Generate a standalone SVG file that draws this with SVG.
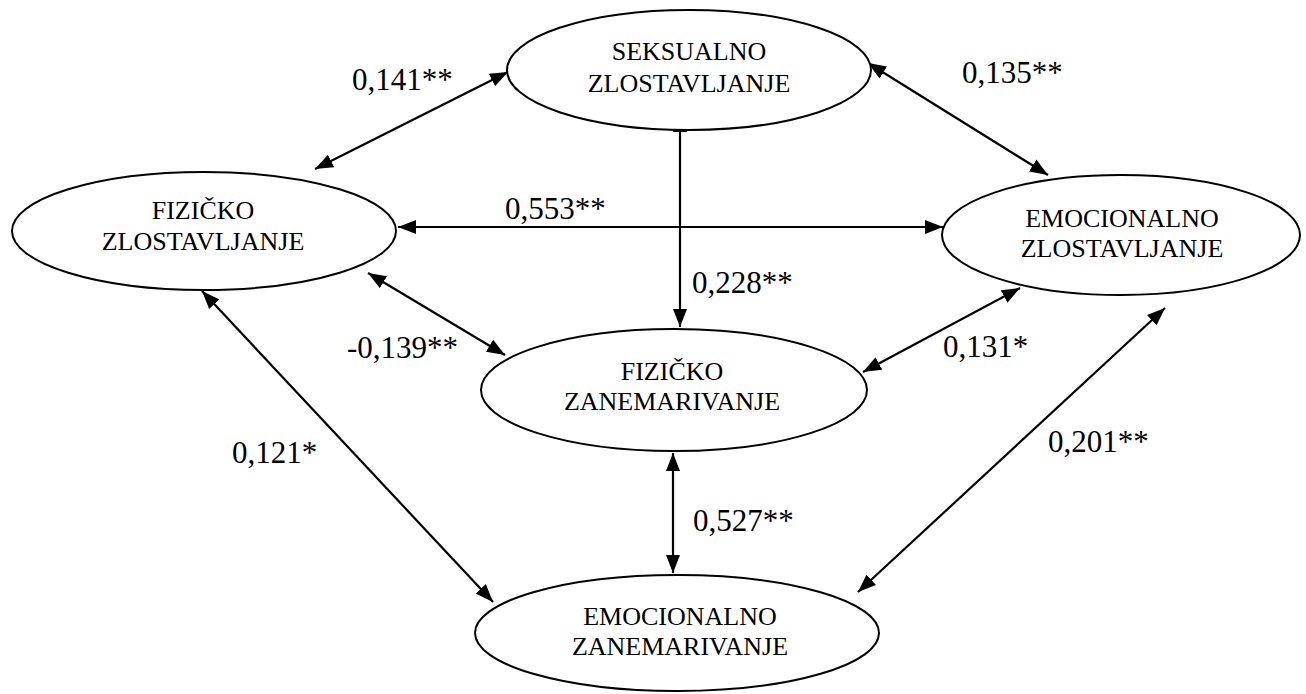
<svg xmlns="http://www.w3.org/2000/svg" width="1306" height="694" viewBox="0 0 1306 694">
<style>
.node ellipse{fill:#fff;stroke:#000;stroke-width:2}
.node text{font-family:"Liberation Serif","Times New Roman",serif;font-size:26px;fill:#000;text-anchor:middle}
.conn line{stroke:#000;stroke-width:2.2;marker-start:url(#ah);marker-end:url(#ah)}
.lbl{font-family:"Liberation Serif","Times New Roman",serif;font-size:31px;fill:#000}
</style>
<defs>
<marker id="ah" markerUnits="userSpaceOnUse" markerWidth="19" markerHeight="15" refX="18" refY="7" orient="auto-start-reverse" viewBox="0 0 19 14">
<path d="M0,0 L18,7 L0,14 z" fill="#000"/>
</marker>
</defs>
<rect width="1306" height="694" fill="#fff"/>
<g id="connectors" class="conn">
<line x1="315" y1="169" x2="508" y2="72"/>
<line x1="868" y1="63" x2="1048" y2="175"/>
<line x1="398" y1="227" x2="943" y2="227"/>
<line x1="680" y1="114" x2="680" y2="327"/>
<line x1="368" y1="273" x2="505" y2="355"/>
<line x1="863" y1="372" x2="1020" y2="288"/>
<line x1="202" y1="291" x2="493" y2="602"/>
<line x1="673" y1="453" x2="673" y2="573"/>
<line x1="858" y1="592" x2="1165" y2="308"/>
</g>
<g id="labels">
<text class="lbl" x="352" y="90">0,141**</text>
<text class="lbl" x="962" y="83">0,135**</text>
<text class="lbl" x="505" y="219">0,553**</text>
<text class="lbl" x="692" y="293">0,228**</text>
<text class="lbl" x="347" y="358">-0,139**</text>
<text class="lbl" x="943" y="357">0,131*</text>
<text class="lbl" x="232" y="463">0,121*</text>
<text class="lbl" x="1048" y="452">0,201**</text>
<text class="lbl" x="693" y="531">0,527**</text>
</g>
<g id="seksualno-zlostavljanje" class="node">
<ellipse cx="689" cy="70" rx="182" ry="60"/>
<text x="689" y="60">SEKSUALNO</text>
<text x="689" y="92">ZLOSTAVLJANJE</text>
</g>
<g id="fizicko-zlostavljanje" class="node">
<ellipse cx="204" cy="231" rx="192" ry="59"/>
<text x="203" y="219">FIZIČKO</text>
<text x="203" y="250">ZLOSTAVLJANJE</text>
</g>
<g id="emocionalno-zlostavljanje" class="node">
<ellipse cx="1121" cy="235" rx="179" ry="60"/>
<text x="1122" y="227">EMOCIONALNO</text>
<text x="1122" y="257">ZLOSTAVLJANJE</text>
</g>
<g id="fizicko-zanemarivanje" class="node">
<ellipse cx="674" cy="390" rx="193" ry="61"/>
<text x="672" y="380">FIZIČKO</text>
<text x="672" y="410">ZANEMARIVANJE</text>
</g>
<g id="emocionalno-zanemarivanje" class="node">
<ellipse cx="677" cy="633" rx="202" ry="58"/>
<text x="680" y="625">EMOCIONALNO</text>
<text x="680" y="655">ZANEMARIVANJE</text>
</g>
</svg>
